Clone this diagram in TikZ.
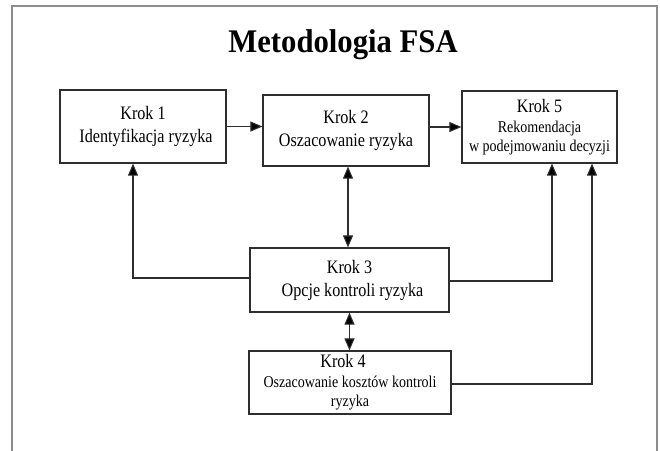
\documentclass[tikz,border=0pt]{standalone}
\usepackage{fontspec}
\usepackage{graphicx}
\setmainfont{Liberation Serif}
\usetikzlibrary{arrows.meta,calc}
\definecolor{framegray}{HTML}{8C8C8C}
\definecolor{boxline}{HTML}{2E2E2E}
\newcommand\sqz[1]{\scalebox{0.85}[1]{#1}}
\tikzset{
  stepbox/.style={draw=boxline, line width=1.2pt, rectangle, inner sep=0pt, align=center,
    font=\fontsize{19}{23}\selectfont, text=black},
  conn/.style={draw=boxline, line width=1.1pt},
  tip/.style={-{Triangle[length=12pt,width=10pt,fill=black]}},
  both/.style={{Triangle[length=12pt,width=10pt,fill=black]}-{Triangle[length=12pt,width=10pt,fill=black]}}
}
\begin{document}
\begin{tikzpicture}[x=1pt,y=-1pt]
\useasboundingbox (0,0) rectangle (660,450);
\fill[white] (0,0) rectangle (660,450);
\draw[framegray, line width=1.5pt] (12,452) -- (12,6) -- (657,6) -- (657,452);
\node[font=\bfseries\fontsize{33}{36}\selectfont] (title) at (343,45) {\scalebox{0.93}[1]{Metodologia FSA}};
\node[stepbox, minimum width=166pt, minimum height=73pt] (k1) at (143,126.5)
  {\sqz{Krok 1}\\ \hspace*{6pt}\sqz{Identyfikacja ryzyka}};
\node[stepbox, minimum width=166pt, minimum height=71pt] (k2) at (346,130.5)
  {\sqz{Krok 2}\\ \sqz{Oszacowanie ryzyka}};
\node[stepbox, minimum width=155pt, minimum height=72pt] (k5) at (539.5,127)
  {\sqz{Krok 5}\\[-3pt] {\fontsize{16.5}{18}\selectfont\sqz{Rekomendacja}}\\[-4pt] {\fontsize{16.5}{18}\selectfont\sqz{w podejmowaniu decyzji}}};
\node[stepbox, minimum width=199pt, minimum height=64pt] (k3) at (349.5,280)
  {\sqz{Krok 3}\\ \hspace*{6pt}\sqz{Opcje kontroli ryzyka}};
\node[stepbox, minimum width=202pt, minimum height=63pt] (k4) at (350,382.5)
  {\hspace*{-14pt}\sqz{Krok 4}\\[-3pt] {\fontsize{16.5}{18}\selectfont\sqz{Oszacowanie kosztów kontroli}}\\[-4pt] {\fontsize{16.5}{18}\selectfont\sqz{ryzyka}}};
% connectors
\draw[conn, tip] (k1.east) -- (k1.east -| k2.west);
\draw[conn, tip] ([yshift=3.5pt]k2.east) -- ([yshift=3.5pt]k2.east -| k5.west);
\draw[conn, both] ([xshift=2pt]k2.south) -- ([xshift=2pt]k2.south |- k3.north);
\draw[conn, both] (k3.south) -- (k3.south |- k4.north);
\draw[conn, tip] ([yshift=2pt]k3.west) -| ([xshift=-10pt]k1.south);
\draw[conn, tip] ([yshift=-1pt]k3.east) -| ([xshift=12.5pt]k5.south);
\draw[conn, tip] ([yshift=-1.5pt]k4.east) -| ([xshift=52.5pt]k5.south);
\end{tikzpicture}
\end{document}
